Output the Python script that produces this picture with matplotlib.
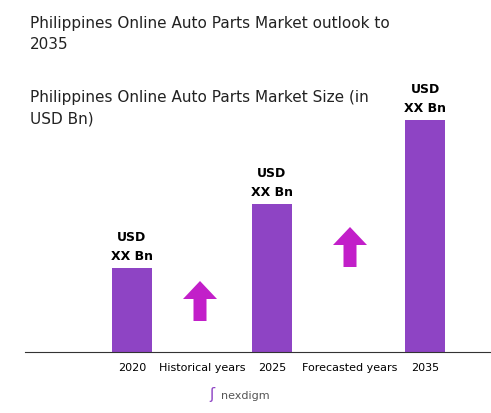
import matplotlib
matplotlib.use("Agg")
import matplotlib.pyplot as plt
from matplotlib.patches import FancyArrow

years = ["2020", "2025", "2035"]
values = [28.7, 50.5, 79.2]
bar_labels = ["USD\nXX Bn", "USD\nXX Bn", "USD\nXX Bn"]
period_labels = ["Historical years", "Forecasted years"]

W, H = 491, 414
fig = plt.figure(figsize=(W/100, H/100), dpi=100)
plt.rcParams['font.family'] = ['DejaVu Sans']

ax = fig.add_axes([25/W, (H-353)/H, (W-25)/W, (353-60)/H])
ax.set_xlim(25, 491)
ax.set_ylim(0, 100)
xpos = [132, 272, 425]
ax.bar(xpos, values, width=40, color="#8e44c4")
for x, v, l in zip(xpos, values, bar_labels):
    ax.text(x, v + 2, l, ha="center", va="bottom", fontsize=9, fontweight="bold", linespacing=1.6)
for s in ["top", "right", "left"]:
    ax.spines[s].set_visible(False)
ax.spines["bottom"].set_color("#333333")
ax.set_yticks([])
ax.set_xticks(xpos + [202, 350])
ax.set_xticklabels(years + period_labels, fontsize=8)
ax.tick_params(axis="x", length=0, pad=7)

def arrow(xc, ybot_px, ytop_px):
    yb = (353 - ybot_px) / 293 * 100
    yt = (353 - ytop_px) / 293 * 100
    ax.add_patch(FancyArrow(xc, yb, 0, yt - yb, width=13, head_width=34,
                            head_length=(yt - yb) * 0.45, length_includes_head=True,
                            color="#c21fc9", lw=0))
arrow(200, 322, 282)
arrow(350, 268, 228)

fig.text(30/W, 1 - 34/H, "Philippines Online Auto Parts Market outlook to\n2035",
         fontsize=11, va="center", ha="left", color="#222222", linespacing=1.5)
fig.text(30/W, 1 - 108/H, "Philippines Online Auto Parts Market Size (in\nUSD Bn)",
         fontsize=11, va="center", ha="left", color="#222222", linespacing=1.5)
fig.text(245/W, 1 - 396/H, "nexdigm", fontsize=8, ha="center", va="center", color="#555555")
fig.text(212/W, 1 - 395/H, "ʃ", fontsize=11, ha="center", va="center", color="#8e44c4")

fig.savefig("out.png", dpi=100)
